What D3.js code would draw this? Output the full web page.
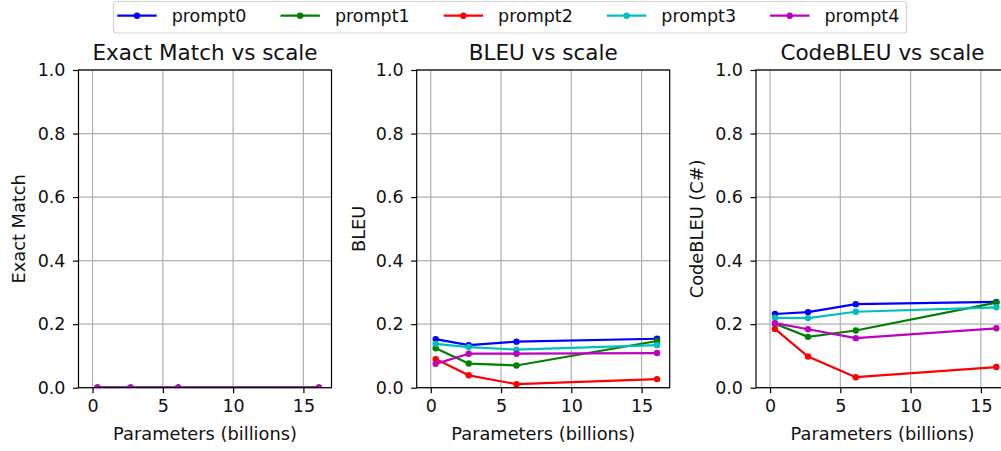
<!DOCTYPE html>
<head>
<meta charset="utf-8">
<title>Metrics vs scale</title>
<script type="text/javascript" src="https://d3js.org/d3.v7.min.js"></script>
<style>
  body { margin: 0; background: #fff; }
  svg { display: block; font-family: "DejaVu Sans", sans-serif; }
</style>
</head>
<body>
<div id="container"></div>
<script>
//---------------------------DATA--------------------------------//
const sizes = [0.35, 2.7, 6.1, 16.1];   // billions of parameters
const prompts = ["prompt0", "prompt1", "prompt2", "prompt3", "prompt4"];
const colors = ["#0000ff", "#008000", "#ff0000", "#00bfbf", "#bf00bf"];

// one row per prompt, one value per model size
const exactMatch = [
  [0, 0, 0, 0],
  [0, 0, 0, 0],
  [0, 0, 0, 0],
  [0, 0, 0, 0],
  [0, 0, 0, 0]
];
const bleu = [
  [0.153, 0.134, 0.145, 0.154],
  [0.124, 0.076, 0.070, 0.147],
  [0.090, 0.039, 0.011, 0.027],
  [0.138, 0.128, 0.120, 0.134],
  [0.075, 0.107, 0.107, 0.109]
];
const codeBleu = [
  [0.232, 0.238, 0.263, 0.270],
  [0.201, 0.160, 0.180, 0.268],
  [0.185, 0.098, 0.033, 0.065],
  [0.220, 0.219, 0.239, 0.253],
  [0.203, 0.184, 0.156, 0.187]
];

const titles = ["Exact Match vs scale", "BLEU vs scale", "CodeBLEU vs scale"];
const yLabels = ["Exact Match", "BLEU", "CodeBLEU (C#)"];
const xLabel = "Parameters (billions)";
const xTicks = [0, 5, 10, 15];
const yTicks = [0, 0.2, 0.4, 0.6, 0.8, 1.0];

//---------------------------LAYOUT------------------------------//
const W = 1001, H = 451;
const panelLeft = [78.5, 416.7, 756];
const panelW = 253, panelTop = 70, panelH = 317.7;
const tickFont = 17.5, labelFont = 17.8, titleFont = 21.5;

const svg = d3.select("#container").append("svg")
    .attr("width", W)
    .attr("height", H);

const x = d3.scaleLinear().domain([-1, 17]).range([0, panelW]);
const y = d3.scaleLinear().domain([0, 1]).range([panelH, 0]);

const line = d3.line()
    .x((d, i) => x(sizes[i]))
    .y(d => y(d));

const panels = [exactMatch, bleu, codeBleu];

panels.forEach(function(series, p) {
  const g = svg.append("g")
      .attr("transform", "translate(" + panelLeft[p] + "," + panelTop + ")");

  // clip for data
  g.append("clipPath").attr("id", "clip" + p)
    .append("rect").attr("width", panelW).attr("height", panelH);

  // grid
  g.append("g").selectAll("line").data(xTicks).join("line")
      .attr("x1", d => x(d)).attr("x2", d => x(d))
      .attr("y1", 0).attr("y2", panelH)
      .attr("stroke", "#b0b0b0").attr("stroke-width", 1.2);
  g.append("g").selectAll("line").data(yTicks).join("line")
      .attr("x1", 0).attr("x2", panelW)
      .attr("y1", d => y(d)).attr("y2", d => y(d))
      .attr("stroke", "#b0b0b0").attr("stroke-width", 1.2);

  // axes
  const xAxis = d3.axisBottom(x).tickValues(xTicks).tickSize(5.5).tickPadding(6)
      .tickFormat(d3.format("d"));
  const yAxis = d3.axisLeft(y).tickValues(yTicks).tickSize(5.5).tickPadding(7.5)
      .tickFormat(d3.format(".1f"));

  const gx = g.append("g").attr("transform", "translate(0," + panelH + ")").call(xAxis);
  const gy = g.append("g").call(yAxis);
  [gx, gy].forEach(function(a) {
    a.select(".domain").remove();
    a.selectAll(".tick line").attr("stroke", "#000").attr("stroke-width", 1.2);
    a.selectAll(".tick text").attr("fill", "#111")
      .style("font-size", tickFont + "px")
      .style("font-family", "DejaVu Sans");
  });

  // lines and markers
  const lines = g.append("g").attr("clip-path", "url(#clip" + p + ")")
    .selectAll("g").data(series).join("g");
  lines.append("path")
      .attr("d", d => line(d))
      .attr("fill", "none")
      .attr("stroke", (d, i) => colors[i])
      .attr("stroke-width", 2.2)
      .attr("stroke-linejoin", "round");
  lines.each(function(d, i) {
    d3.select(this).selectAll("circle").data(d).join("circle")
        .attr("cx", (v, j) => x(sizes[j]))
        .attr("cy", v => y(v))
        .attr("r", 3.2)
        .attr("fill", colors[i]);
  });

  // frame
  g.append("rect")
      .attr("width", panelW).attr("height", panelH)
      .attr("fill", "none").attr("stroke", "#000").attr("stroke-width", 1.2);

  // title
  g.append("text")
      .attr("x", panelW / 2).attr("y", 59.5 - panelTop)
      .attr("text-anchor", "middle")
      .style("font-size", titleFont + "px")
      .attr("fill", "#111")
      .text(titles[p]);

  // x label
  g.append("text")
      .attr("x", panelW / 2).attr("y", 439.5 - panelTop)
      .attr("text-anchor", "middle")
      .style("font-size", labelFont + "px")
      .attr("fill", "#111")
      .text(xLabel);

  // y label
  const yLabelX = [18, 358, 696][p] - panelLeft[p];
  g.append("text")
      .attr("transform", "translate(" + (yLabelX + 6.5) + "," + (panelH / 2) + ") rotate(-90)")
      .attr("text-anchor", "middle")
      .style("font-size", labelFont + "px")
      .attr("fill", "#111")
      .text(yLabels[p]);
});

//---------------------------LEGEND------------------------------//
const legend = svg.append("g");
legend.append("rect")
    .attr("x", 113.5).attr("y", 1.5)
    .attr("width", 793).attr("height", 31.5)
    .attr("rx", 3)
    .attr("fill", "#fff").attr("fill-opacity", 0.8)
    .attr("stroke", "#d5d5d5").attr("stroke-width", 1.2);

const items = legend.selectAll("g.item").data(prompts).join("g")
    .attr("class", "item")
    .attr("transform", (d, i) => "translate(" + (117.3 + i * 163.2) + ",0)");
items.append("line")
    .attr("x1", 0).attr("x2", 39.4)
    .attr("y1", 15.7).attr("y2", 15.7)
    .attr("stroke", (d, i) => colors[i])
    .attr("stroke-width", 2.2);
items.append("circle")
    .attr("cx", 19.7).attr("cy", 15.7).attr("r", 3.2)
    .attr("fill", (d, i) => colors[i]);
items.append("text")
    .attr("x", 54.4).attr("y", 22)
    .style("font-size", "17.5px")
    .attr("fill", "#111")
    .text(d => d);
</script>
</body>
